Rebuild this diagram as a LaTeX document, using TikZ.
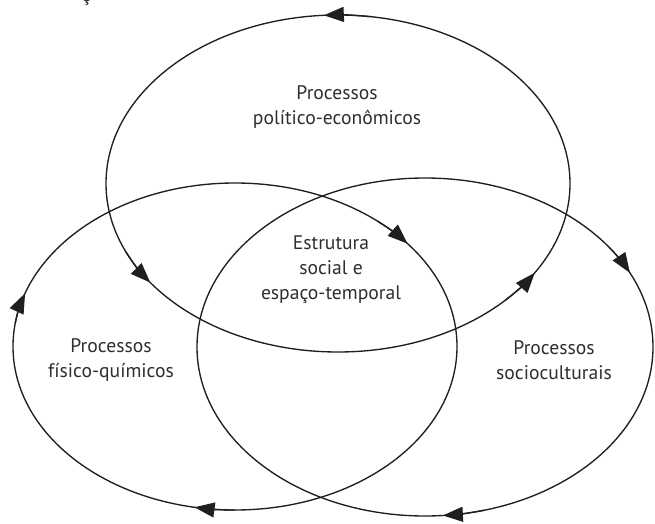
\documentclass[tikz,border=0pt]{standalone}
\usepackage{fontspec}
\setmainfont{PT Sans}
\usetikzlibrary{arrows.meta}
\begin{document}
\begin{tikzpicture}[x=1pt,y=1pt,
  ring/.style={line width=1.35pt, draw=black!88},
  flow/.style={line width=1.35pt, draw=black!88, -{Triangle[length=20pt,width=15pt]}},
  lbl/.style={align=center, font=\fontsize{19.6}{25}\selectfont, text=black!82, inner sep=0pt}]
\useasboundingbox (0,0) rectangle (655,523);
\begin{scope}
\clip (0,0) rectangle (655,523);
\node[lbl, anchor=base] (frag) at (86,521) {ç};
\end{scope}
\coordinate (cT) at (338,339.5);
\coordinate (cL) at (235,176.5);
\coordinate (cR) at (425,176);
% ellipses
\draw[ring] (cT) ellipse [x radius=232pt, y radius=168.5pt];
\draw[ring] (cL) ellipse [x radius=222pt, y radius=163.5pt];
\draw[ring] (cR) ellipse [x radius=228pt, y radius=169pt];
% arrows on top ellipse (counterclockwise)
\draw[flow] ([shift={(82:232pt and 168.5pt)}]cT) arc[start angle=82, end angle=93.5, x radius=232pt, y radius=168.5pt];
\draw[flow] ([shift={(204:232pt and 168.5pt)}]cT) arc[start angle=204, end angle=216, x radius=232pt, y radius=168.5pt];
\draw[flow] ([shift={(316:232pt and 168.5pt)}]cT) arc[start angle=316, end angle=328, x radius=232pt, y radius=168.5pt];
% arrows on left ellipse (clockwise)
\draw[flow] ([shift={(50:222pt and 163.5pt)}]cL) arc[start angle=50, end angle=39, x radius=222pt, y radius=163.5pt];
\draw[flow] ([shift={(172:222pt and 163.5pt)}]cL) arc[start angle=172, end angle=161, x radius=222pt, y radius=163.5pt];
\draw[flow] ([shift={(270:222pt and 163.5pt)}]cL) arc[start angle=270, end angle=259.5, x radius=222pt, y radius=163.5pt];
% arrows on right ellipse (clockwise)
\draw[flow] ([shift={(36:228pt and 169pt)}]cR) arc[start angle=36, end angle=26, x radius=228pt, y radius=169pt];
\draw[flow] ([shift={(285:228pt and 169pt)}]cR) arc[start angle=285, end angle=274.5, x radius=228pt, y radius=169pt];
% labels
\node[lbl] (pe) at (337,416) {Processos\\político-econômicos};
\node[lbl] (es) at (331,253) {Estrutura\\social e\\espaço-temporal};
\node[lbl] (fq) at (111,162.5) {Processos\\físico-químicos};
\node[lbl] (sc) at (554,162.5) {Processos\\socioculturais};
\end{tikzpicture}
\end{document}
